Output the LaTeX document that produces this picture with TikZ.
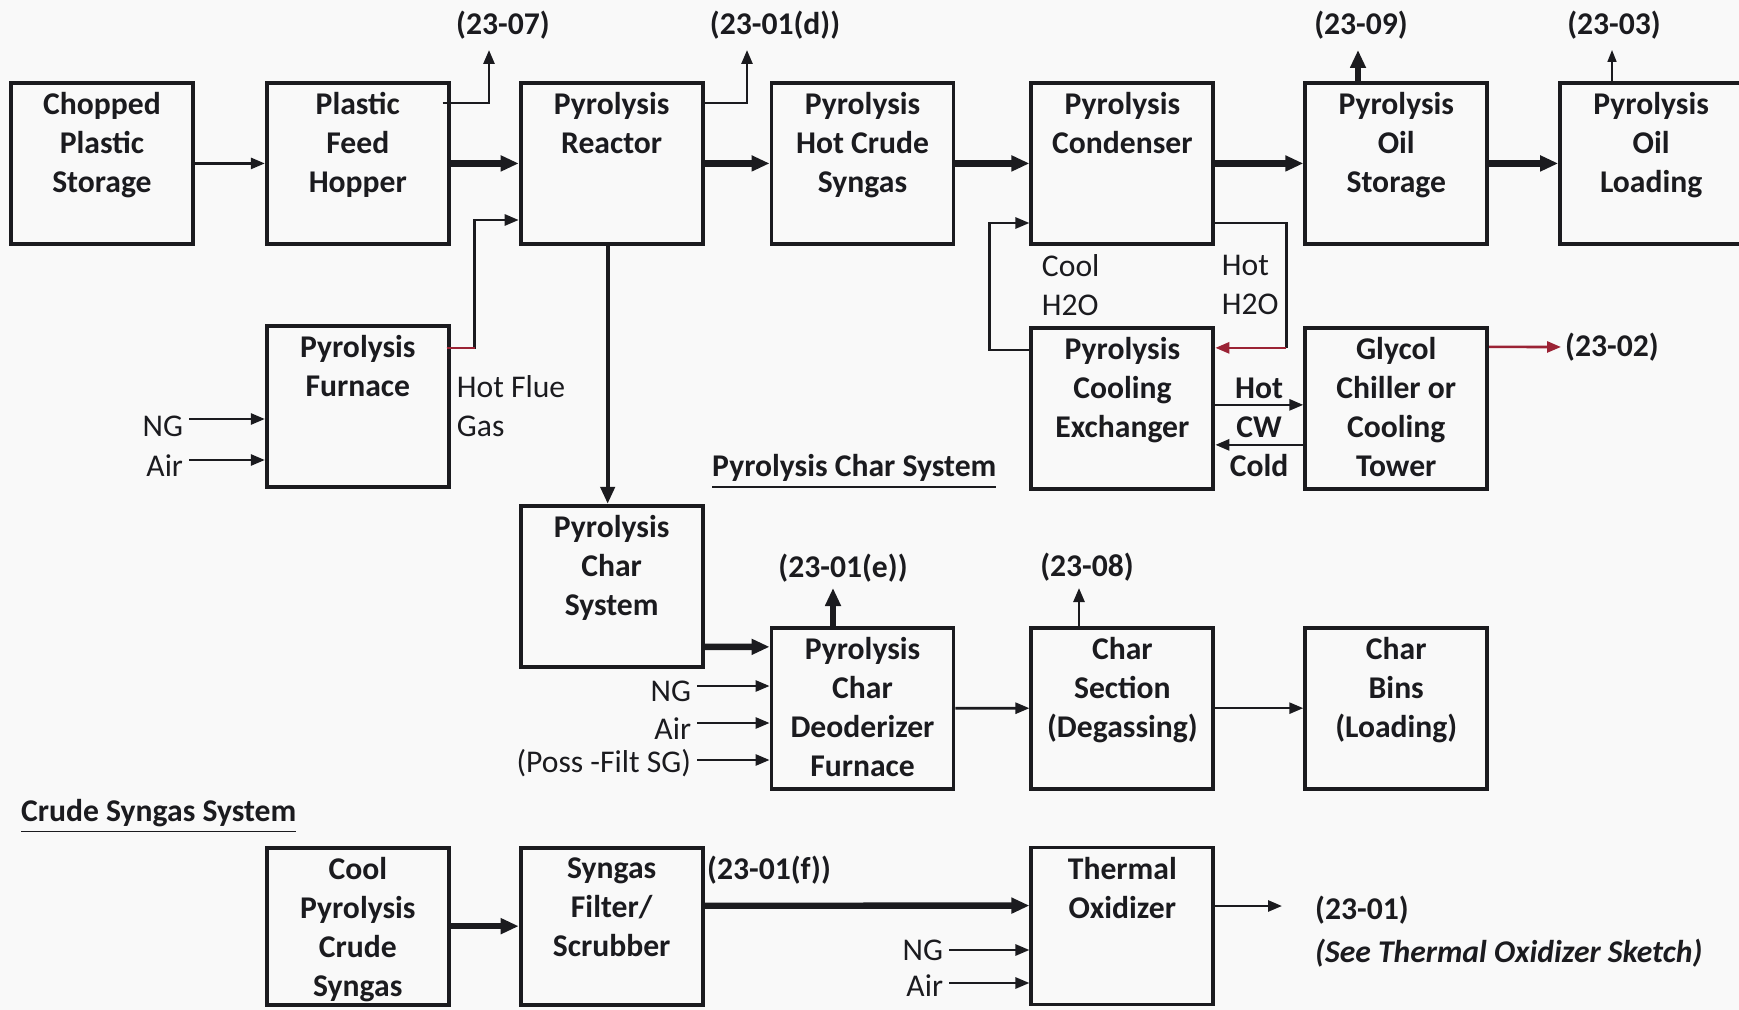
\documentclass[tikz,border=0pt]{standalone}
\usepackage{fontspec}
\setmainfont{Carlito}
\usepackage{tikz}
\usetikzlibrary{arrows.meta,positioning,calc}
\definecolor{inkblack}{HTML}{1B1B1F}
\definecolor{flowred}{HTML}{9B2335}
\definecolor{paper}{HTML}{F9F9F9}
\newcommand{\figfont}{\fontsize{9pt}{11.1pt}\selectfont}

\begin{document}
\begin{tikzpicture}[
  x=0.1mm,y=-0.1mm,
  unit/.style={draw=inkblack,line width=1.1pt,minimum width=1.82cm,
    minimum height=1.61cm,inner sep=0pt},
  unittext/.style={anchor=north,align=center,inner sep=0pt,yshift=-1.1mm,
    text=inkblack,font=\figfont\bfseries},
  note/.style={inner sep=1.5pt,text=inkblack,font=\figfont},
  tag/.style={inner sep=1pt,text=inkblack,font=\figfont\bfseries},
  flow/.style={-{Triangle[length=1.4mm,width=1.1mm]},line width=0.75pt,inkblack},
  fine/.style={-{Triangle[length=1.2mm,width=0.9mm]},line width=0.45pt,inkblack},
  mid/.style={-{Triangle[length=1.7mm,width=1.4mm]},line width=1.2pt,inkblack},
  heavy/.style={-{Triangle[length=1.8mm,width=1.5mm]},line width=1.8pt,inkblack}
]
\fill[paper] (0,0) rectangle (1739,1010);
\useasboundingbox (0,0) rectangle (1739,1010);

% main line
\node[unit,anchor=north west,label={[unittext]north:Chopped\\Plastic\\Storage}] (cps) at (9,81) {};
\node[unit,right=7.0mm of cps,label={[unittext]north:Plastic\\Feed\\Hopper}] (hopper) {};
\node[unit,right=6.8mm of hopper,label={[unittext]north:Pyrolysis\\Reactor}] (reactor) {};
\node[unit,right=6.5mm of reactor,label={[unittext]north:Pyrolysis\\Hot Crude\\Syngas}] (crude) {};
\node[unit,right=7.4mm of crude,label={[unittext]north:Pyrolysis\\Condenser}] (cond) {};
\node[unit,right=8.8mm of cond,label={[unittext]north:Pyrolysis\\Oil\\Storage}] (oilst) {};
\node[unit,right=6.9mm of oilst,label={[unittext]north:Pyrolysis\\Oil\\Loading}] (oilld) {};

% furnace, cooling water
\node[unit,below=7.8mm of hopper,label={[unittext]north:Pyrolysis\\Furnace}] (furn) {};
\node[unit,below=8.0mm of cond,label={[unittext]north:Pyrolysis\\Cooling\\Exchanger}] (coolx) {};
\node[unit,below=8.0mm of oilst,label={[unittext]north:Glycol\\Chiller or\\Cooling\\Tower}] (chill) {};

% char line
\node[unit,below=25.8mm of reactor,label={[unittext]north:Pyrolysis\\Char\\System}] (charsys) {};
\node[unit,below=38mm of crude,label={[unittext]north:Pyrolysis\\Char\\Deoderizer\\Furnace}] (deod) {};
\node[unit,below=13.5mm of coolx,label={[unittext]north:Char\\Section\\(Degassing)}] (charsec) {};
\node[unit,below=13.5mm of chill,label={[unittext]north:Char\\Bins\\(Loading)}] (bins) {};

% crude syngas line
\node[unit,minimum height=1.57cm,below=35.7mm of furn,label={[unittext]north:Cool\\Pyrolysis\\Crude\\Syngas}] (coolsg) {};
\node[unit,minimum height=1.57cm,below=17.7mm of charsys,label={[unittext]north:Syngas\\Filter/\\Scrubber}] (filt) {};
\node[unit,minimum height=1.57cm,below=5.5mm of charsec,label={[unittext]north:Thermal\\Oxidizer}] (tox) {};

% stream tags
\node[tag] (t07) at (503,25) {(23-07)};
\node[tag] (t01d) at (775,25) {(23-01(d))};
\node[tag] (t09) at (1361,25) {(23-09)};
\node[tag] (t03) at (1614,25) {(23-03)};
\node[tag,anchor=west] (t02) at (1561,347) {(23-02)};
\node[tag] (t01e) at (843,568) {(23-01(e))};
\node[tag] (t08) at (1087,567) {(23-08)};
\node[tag] (t01f) at (769,870) {(23-01(f))};
\node[tag,anchor=west] (t01) at (1311,910) {(23-01)};
\node[tag,anchor=west,font=\figfont\bfseries\itshape] (sketch) at (1311,953) {(See Thermal Oxidizer Sketch)};
\coordinate (tip07) at (489,50);
\coordinate (tip01d) at (747,50);
\coordinate (tip09) at (1358,50);
\coordinate (tip03) at (1612,50);
\coordinate (tip01e) at (833,588);
\coordinate (tip08) at (1079,588);
\coordinate (tip01) at (1282,906);

% side notes
\node[note,anchor=east] (ngf) at (189,426) {NG};
\node[note,anchor=east] (airf) at (189,466) {Air};
\node[note,anchor=north west,align=left] (flue) at (451,370) {Hot Flue\\Gas};
\node[note,anchor=north west,align=left] (coolw) at (1036,249) {Cool\\H2O};
\node[note,anchor=north west,align=left] (hotw) at (1216,249) {Hot\\H2O};
\node[tag,align=center] (cw) at (1259,427) {Hot\\CW\\Cold};
\node[note,anchor=east] (ngd) at (697,691) {NG};
\node[note,anchor=east] (aird) at (697,729) {Air};
\node[note,anchor=east] (sgd) at (697,763) {(Poss -Filt SG)};
\node[note,anchor=east] (ngt) at (949,950) {NG};
\node[note,anchor=east] (airt) at (949,986) {Air};
\node[tag,anchor=base west] (pcs) at (708,477) {\underline{Pyrolysis Char System}};
\node[tag,anchor=base west] (css) at (17,821) {\underline{Crude Syngas System}};

% main line flows
\draw[flow] (cps) -- (hopper);
\draw[heavy] (hopper) -- (reactor);
\draw[heavy] (reactor) -- (crude);
\draw[heavy] (crude) -- (cond);
\draw[heavy] (cond) -- (oilst);
\draw[heavy] (oilst) -- (oilld);
\draw[flow] ($(hopper.north east)+(-8,22)$) -| (tip07);
\draw[flow] ($(reactor.north east)+(0,22)$) -| (tip01d);
\draw[heavy] (tip09 |- oilst.north) -- (tip09);
\draw[fine] (tip03 |- oilld.north) -- (tip03);

% furnace
\draw[flow] ([yshift=0.7mm]ngf.east) coordinate (ngfa) -- (ngfa -| furn.west);
\draw[flow] ([yshift=0.6mm]airf.east) coordinate (airfa) -- (airfa -| furn.west);
\draw[flow] ($(furn.north east)+(-4,24)$) -- ++(28,0) |- ($(reactor.north west)+(0,139)$);
\draw[flowred,line width=0.75pt] ($(furn.north east)+(-4,24)$) -- ++(28,0);
\path ([xshift=-0.4mm]reactor.south) coordinate (rdrop);
\draw[mid] (rdrop) -- (rdrop |- charsys.north);

% cooling water loop
\draw[flow] ($(coolx.north west)+(0,24)$) -- ++(-40,0) |- ($(cond.north west)+(0,142)$);
\draw[inkblack,line width=0.75pt] ($(cond.north east)+(0,142)$) -- ++(71,0)
  |- ($(coolx.north east)+(71,22)$);
\draw[flow,flowred] ($(coolx.north east)+(71,22)$) -- ($(coolx.north east)+(0,22)$);
\draw[flow] ($(coolx.north east)+(0,79)$) -- ($(chill.north west)+(0,79)$);
\draw[flow] ($(chill.north west)+(0,119)$) -- ($(coolx.north east)+(0,119)$);
\draw[flow,flowred] ($(chill.north east)+(0,21)$) -- (t02.west);

% char line flows
\draw[heavy] ($(charsys.north east)+(0,143)$) -- ($(deod.north west)+(0,21)$);
\draw[flow] ([yshift=0.5mm]ngd.east) coordinate (ngda) -- (ngda -| deod.west);
\draw[flow] ([yshift=0.6mm]aird.east) coordinate (airda) -- (airda -| deod.west);
\draw[flow] ([yshift=0.3mm]sgd.east) coordinate (sgda) -- (sgda -| deod.west);
\draw[heavy] (tip01e |- deod.north) -- (tip01e);
\draw[flow] (deod) -- (charsec);
\draw[flow] (tip08 |- charsec.north) -- (tip08);
\draw[flow] (charsec) -- (bins);

% crude syngas flows
\draw[heavy] (coolsg) -- (filt);
\draw[heavy] ($(filt.north east)+(0,60)$) -- ($(tox.north west)+(0,60)$);
\draw[flow] (ngt) -- (ngt -| tox.west);
\draw[flow] ([yshift=0.3mm]airt.east) coordinate (airta) -- (airta -| tox.west);
\draw[flow] (tox.east |- tip01) -- (tip01);
\end{tikzpicture}
\end{document}
